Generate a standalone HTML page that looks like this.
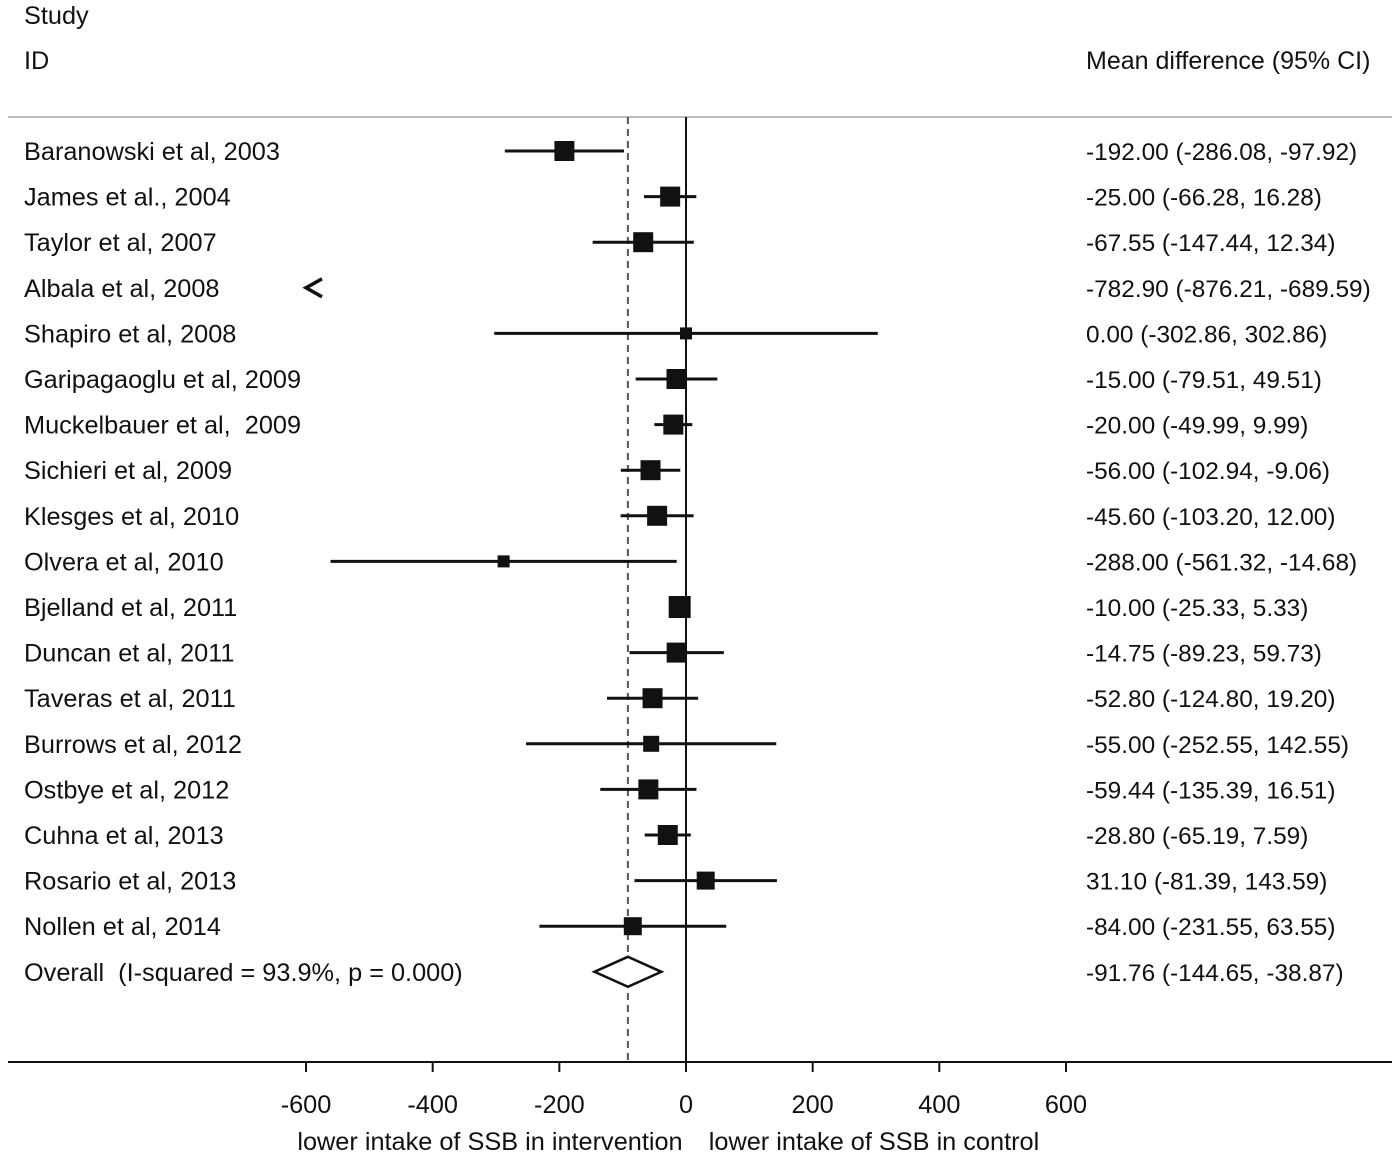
<!DOCTYPE html>
<html><head><meta charset="utf-8"><style>
body{margin:0;background:#fff;}
svg text{font-family:"Liberation Sans",Arial,sans-serif;font-size:25.3px;fill:#111;white-space:pre;}
svg text.r{font-size:24.4px;}
</style></head><body>
<svg id="chart" width="1400" height="1156" xmlns="http://www.w3.org/2000/svg">
<text x="24" y="24">Study</text>
<text x="24" y="69">ID</text>
<text x="1086" y="69" style="font-size:25px">Mean difference (95% CI)</text>
<line x1="8" y1="117" x2="1392" y2="117" stroke="#bbb" stroke-width="2"/>
<line x1="8" y1="1062" x2="1392" y2="1062" stroke="#111" stroke-width="2"/>
<g id="marks"></g>
<text x="490" y="1150" text-anchor="middle">lower intake of SSB in intervention</text>
<text x="874" y="1150" text-anchor="middle">lower intake of SSB in control</text>
</svg>
<script>
const studies=["Baranowski et al, 2003","James et al., 2004","Taylor et al, 2007","Albala et al, 2008","Shapiro et al, 2008","Garipagaoglu et al, 2009","Muckelbauer et al,  2009","Sichieri et al, 2009","Klesges et al, 2010","Olvera et al, 2010","Bjelland et al, 2011","Duncan et al, 2011","Taveras et al, 2011","Burrows et al, 2012","Ostbye et al, 2012","Cuhna et al, 2013","Rosario et al, 2013","Nollen et al, 2014"];
const means=[-192,-25,-67.55,-782.9,0,-15,-20,-56,-45.6,-288,-10,-14.75,-52.8,-55,-59.44,-28.8,31.1,-84];
const lows=[-286.08,-66.28,-147.44,-876.21,-302.86,-79.51,-49.99,-102.94,-103.2,-561.32,-25.33,-89.23,-124.8,-252.55,-135.39,-65.19,-81.39,-231.55];
const highs=[-97.92,16.28,12.34,-689.59,302.86,49.51,9.99,-9.06,12,-14.68,5.33,59.73,19.2,142.55,16.51,7.59,143.59,63.55];
const weights=[10,10,10,0,6,10,10,10,10,6,11,10,10,8,10,10,9,9];
const overall=[-91.76,-144.65,-38.87];
const ticks=[-600,-400,-200,0,200,400,600];
const NS="http://www.w3.org/2000/svg";
const X=v=>686+v*0.6333;
const Y=i=>151+i*45.6;
const xmin=-600,xmax=600;
const svg=document.getElementById('chart');
function mk(t,a){const e=document.createElementNS(NS,t);for(const k in a)e.setAttribute(k,a[k]);svg.appendChild(e);return e;}
let e=mk('line',{x1:X(0),y1:117,x2:X(0),y2:1062,stroke:'#111','stroke-width':2});


e=mk('line',{x1:X(overall[0]),y1:117,x2:X(overall[0]),y2:1062,stroke:'#555','stroke-width':2,'stroke-dasharray':'7,5'});


studies.forEach((s,i)=>{
  const y=Y(i);
  let t=mk('text',{x:24,y:y+9});t.textContent=s;
  
  
  const f=v=>v.toFixed(2);
  t=mk('text',{x:1086,y:y+9,'class':'r'});t.textContent=f(means[i])+" ("+f(lows[i])+", "+f(highs[i])+")";
  
  
  if(highs[i]<xmin){
    const ax=X(xmin);
    const a=mk('polyline',{points:(ax+16)+','+(y-9)+' '+ax+','+y+' '+(ax+16)+','+(y+9),fill:'none',stroke:'#111','stroke-width':3.5});
    
    
    return;
  }
  const l=mk('line',{x1:X(Math.max(lows[i],xmin)),y1:y,x2:X(Math.min(highs[i],xmax)),y2:y,stroke:'#111','stroke-width':3});
  
  
  const w=weights[i];
  const r=mk('rect',{x:X(means[i])-w,y:y-w,width:2*w,height:2*w,fill:'#111'});
  
  
});
const oy=Y(studies.length);
let t=mk('text',{x:24,y:oy+9});t.textContent="Overall  (I-squared = 93.9%, p = 0.000)";


t=mk('text',{x:1086,y:oy+9,'class':'r'});t.textContent="-91.76 (-144.65, -38.87)";


const d=mk('polygon',{points:X(overall[1])+','+oy+' '+X(overall[0])+','+(oy-15)+' '+X(overall[2])+','+oy+' '+X(overall[0])+','+(oy+15),fill:'#fff',stroke:'#111','stroke-width':2.5});


ticks.forEach(v=>{
  const tk=mk('line',{x1:X(v),y1:1062,x2:X(v),y2:1072,stroke:'#111','stroke-width':2});
  
  
  const tl=mk('text',{x:X(v),y:1113,'text-anchor':'middle'});tl.textContent=v;
  
  
});
</script>
</body></html>
